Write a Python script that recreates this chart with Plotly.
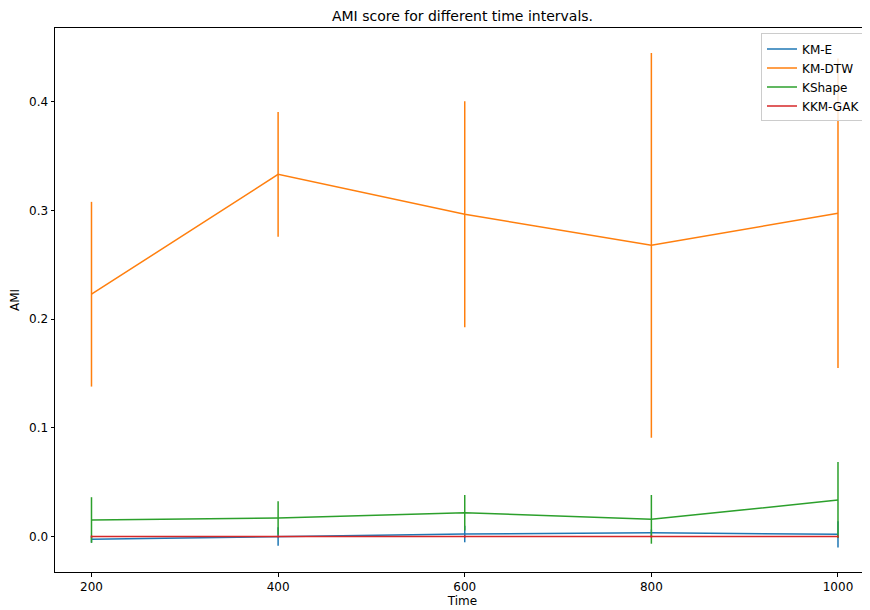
import plotly.graph_objects as go

times = [200, 400, 600, 800, 1000]
km_e = [-0.0026, 0.0, 0.0023, 0.0035, 0.002]
km_e_err = [0.003, 0.0085, 0.0076, 0.003, 0.012]
km_dtw = [0.223, 0.3333, 0.2966, 0.268, 0.2975]
km_dtw_err = [0.085, 0.0575, 0.104, 0.177, 0.1425]
kshape = [0.0152, 0.017, 0.0219, 0.0158, 0.0336]
kshape_err = [0.021, 0.0154, 0.0163, 0.0224, 0.035]
kkm_gak = [0.0, 0.0, 0.0, 0.0, 0.0]
kkm_gak_err = [0.001, 0.001, 0.001, 0.001, 0.001]

series = [
    ("KM-E", km_e, km_e_err, "#1f77b4"),
    ("KM-DTW", km_dtw, km_dtw_err, "#ff7f0e"),
    ("KShape", kshape, kshape_err, "#2ca02c"),
    ("KKM-GAK", kkm_gak, kkm_gak_err, "#d62728"),
]

fig = go.Figure()
for name, vals, errs, col in series:
    fig.add_trace(go.Scatter(
        x=times, y=vals, name=name, mode="lines",
        line=dict(color=col, width=1.5),
        error_y=dict(type="data", array=errs, visible=True, width=0,
                     thickness=1.5, color=col),
    ))

# page has an 8px body margin, so the figure is sized to end at 870x610
W, H = 862, 602
font = "DejaVu Sans, sans-serif"
fig.update_layout(
    width=W, height=H,
    margin=dict(l=46.5, r=0, t=19.5, b=38),
    paper_bgcolor="white", plot_bgcolor="white",
    font=dict(family=font, size=12, color="black"),
    title=dict(text="AMI score for different time intervals.", x=0.5,
               xref="paper", xanchor="center", y=1 - 3.5 / H,
               yanchor="top", font=dict(size=14, color="black")),
    showlegend=True,
    legend=dict(x=0.9951, y=0.9899, xanchor="right", yanchor="top",
                bgcolor="rgba(255,255,255,0.8)", bordercolor="#cccccc",
                borderwidth=1, font=dict(size=12), tracegroupgap=0,
                itemwidth=30),
)
fig.update_xaxes(
    range=[160.9, 1034.3], tickvals=times, ticktext=[str(t) for t in times],
    showgrid=False, zeroline=False, showline=True, linecolor="black",
    linewidth=1, mirror=True, ticks="outside", ticklen=3.5, tickwidth=1,
    tickcolor="black", tickfont=dict(size=12),
    title=dict(text="Time", font=dict(size=12), standoff=3),
)
fig.update_yaxes(
    range=[-0.03264, 0.468], tickvals=[0.0, 0.1, 0.2, 0.3, 0.4],
    ticktext=["0.0", "0.1", "0.2", "0.3", "0.4"],
    showgrid=False, zeroline=False, showline=True, linecolor="black",
    linewidth=1, ticks="outside", ticklen=3.5, tickwidth=1,
    tickcolor="black", tickfont=dict(size=12),
    title=dict(text="AMI", font=dict(size=12), standoff=6),
)

fig.write_html("out.html")
